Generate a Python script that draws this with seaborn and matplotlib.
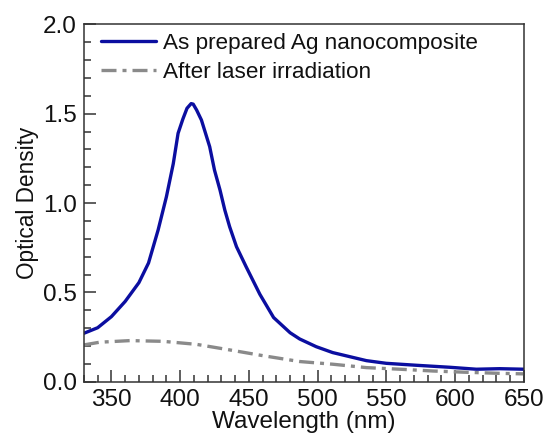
import numpy as np
import pandas as pd
import seaborn as sns
import matplotlib.pyplot as plt
from matplotlib.ticker import MultipleLocator

# Spektrumlar
wl_ag = [330, 340, 350, 360, 370, 377, 384, 390, 395, 398.5, 402, 405, 408, 409.5, 412,
         415.5, 421.5, 425, 429, 432.5, 436, 441, 448, 458, 468, 480, 487, 499, 511,
         523.5, 535.5, 550, 572, 596, 615.5, 632.5, 650]
od_ag = [0.272, 0.303, 0.365, 0.45, 0.555, 0.665, 0.85, 1.035, 1.22, 1.39, 1.47, 1.53,
         1.556, 1.553, 1.52, 1.464, 1.315, 1.184, 1.073, 0.961, 0.868, 0.756, 0.644,
         0.49, 0.36, 0.275, 0.24, 0.197, 0.164, 0.141, 0.119, 0.104, 0.093, 0.082,
         0.071, 0.074, 0.071]

wl_laser = [330, 341.5, 363.5, 387.5, 412, 436, 460, 487, 511, 535.5, 560, 584, 608, 632.5, 650]
od_laser = [0.207, 0.222, 0.231, 0.227, 0.21, 0.179, 0.147, 0.114, 0.099, 0.08, 0.071,
            0.061, 0.054, 0.048, 0.045]

df_ag = pd.DataFrame({'wl': wl_ag, 'od': od_ag})
df_laser = pd.DataFrame({'wl': wl_laser, 'od': od_laser})

sns.set_style("ticks")
plt.rcParams['font.family'] = ['Liberation Sans', 'DejaVu Sans']

fig, ax = plt.subplots(figsize=(5.45, 4.4), dpi=100)
fig.subplots_adjust(left=0.154, right=0.961, top=0.945, bottom=0.132)

sns.lineplot(data=df_ag, x='wl', y='od', ax=ax, color='#0b0ea0', linewidth=2.4,
             label='As prepared Ag nanocomposite')
sns.lineplot(data=df_laser, x='wl', y='od', ax=ax, color='#8a8a8a', linewidth=2.4,
             linestyle=(0, (4.5, 1.8, 1.2, 1.8)), label='After laser irradiation')

ax.set_xlim(330, 650)
ax.set_ylim(0, 2.0)
ax.xaxis.set_major_locator(MultipleLocator(50))
ax.xaxis.set_minor_locator(MultipleLocator(10))
ax.yaxis.set_major_locator(MultipleLocator(0.5))
ax.yaxis.set_minor_locator(MultipleLocator(0.1))
ax.yaxis.set_major_formatter(plt.FormatStrFormatter('%.1f'))
ax.tick_params(which='both', direction='in', top=False, right=False, labelsize=17.5,
               colors='#333333', labelcolor='#111111')
ax.tick_params(which='major', length=8.5, width=1.1, pad=5)
ax.tick_params(which='minor', length=5, width=1.1)
for s in ax.spines.values():
    s.set_color('#333333')
    s.set_linewidth(1.1)

ax.set_xlabel('Wavelength (nm)', fontsize=17.5, labelpad=0, color='#111111')
ax.set_ylabel('Optical Density', fontsize=16.3, labelpad=3, color='#111111')

leg = ax.legend(loc='upper left', bbox_to_anchor=(0.018, 1.0), borderaxespad=0,
                frameon=False, fontsize=16.2, handlelength=2.45, handletextpad=0.3,
                labelspacing=0.35)
for t in leg.get_texts():
    t.set_color('#111111')

fig.savefig('out.png', dpi=100)
